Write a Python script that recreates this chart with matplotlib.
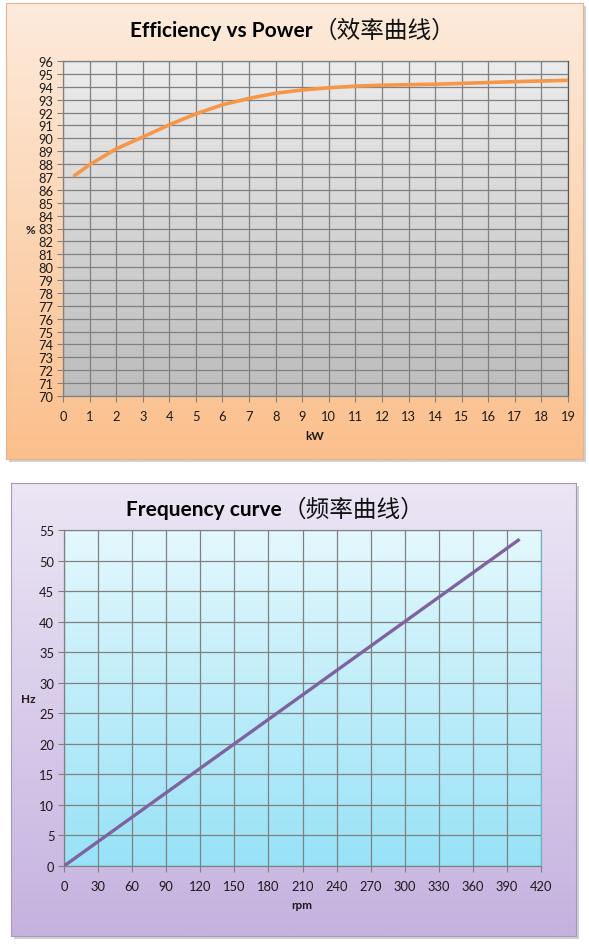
import matplotlib.pyplot as plt
import numpy as np
from matplotlib.colors import LinearSegmentedColormap

plt.rcParams['font.family'] = ['Lato', 'Noto Sans CJK SC', 'DejaVu Sans']

# efficiency curve data (kW, %)
power_kw = [0.43, 1, 2, 3, 4, 5, 6, 7, 8, 9, 10, 11, 12, 13, 14, 15, 16, 17, 18, 19]
efficiency = [87.1, 87.95, 89.18, 90.1, 91.05, 91.9, 92.6, 93.1, 93.5, 93.75,
              93.92, 94.05, 94.12, 94.16, 94.2, 94.26, 94.33, 94.4, 94.45, 94.5]

# frequency curve data (rpm, Hz)
speed_rpm = [0, 400]
frequency = [0, 53.33]

W, H = 589, 945
fig = plt.figure(figsize=(W / 100, H / 100), dpi=100)


def px_rect(x0, y0, x1, y1):
    # pixel box (top-left origin) -> figure fraction [l, b, w, h]
    return [x0 / W, 1 - y1 / H, (x1 - x0) / W, (y1 - y0) / H]


def gradient_bg(rect, top, bottom, edge):
    # shadow
    sh = fig.add_axes([rect[0] + 3 / W, rect[1] - 3 / H, rect[2], rect[3]], zorder=0)
    sh.set_facecolor('#d0d0d0')
    sh.set_xticks([]); sh.set_yticks([])
    for s in sh.spines.values():
        s.set_visible(False)
    bg = fig.add_axes(rect, zorder=0.5)
    cmap = LinearSegmentedColormap.from_list('g', [top, bottom])
    bg.imshow(np.linspace(0, 1, 256).reshape(-1, 1), cmap=cmap, aspect='auto',
              extent=[0, 1, 0, 1])
    bg.set_xticks([]); bg.set_yticks([])
    for s in bg.spines.values():
        s.set_color(edge)
        s.set_linewidth(0.8)


def plot_gradient(ax, top, bottom):
    cmap = LinearSegmentedColormap.from_list('p', [top, bottom])
    ax.imshow(np.linspace(0, 1, 256).reshape(-1, 1), cmap=cmap, aspect='auto',
              extent=[0, 1, 0, 1], transform=ax.transAxes, zorder=0)


def style_axes(ax, xticks, yticks, spine_col):
    ax.set_xticks(xticks)
    ax.set_yticks(yticks)
    ax.grid(True, color='#808080', linewidth=0.9, zorder=1)
    ax.set_axisbelow(False)
    ax.tick_params(direction='out', length=4, width=0.8, color='#808080',
                   labelsize=9.3, labelcolor='#1a1a1a', pad=3)
    for s in ax.spines.values():
        s.set_color(spine_col)
        s.set_linewidth(0.9)
    ax.spines['left'].set_color('#808080')
    ax.spines['bottom'].set_color('#808080')


def title(xsplit, y, eng, cjk):
    fig.text(xsplit / W, 1 - y / H, eng, ha='right', va='baseline', fontsize=15,
             fontweight='bold', color='#000000', zorder=5)
    fig.text((xsplit + 1) / W, 1 - (y + 1) / H, cjk, ha='left', va='baseline',
             fontsize=17, family=['Noto Sans CJK SC', 'DejaVu Sans'],
             color='#111111', zorder=5)


def label(x, y, s):
    fig.text(x / W, 1 - y / H, s, ha='center', va='center', fontsize=8.5,
             fontweight='bold', color='#1a1a1a', zorder=5)


# ---------- top panel ----------
gradient_bg(px_rect(6, 4, 583, 460), '#fdebdc', '#fbbf8c', '#e2b48f')
ax1 = fig.add_axes(px_rect(63, 62, 568, 397), zorder=2)
plot_gradient(ax1, '#ececec', '#bcbcbc')
ax1.plot(power_kw, efficiency, color='#f79646', linewidth=2.6, zorder=3,
         solid_capstyle='round')
ax1.set_xlim(0, 19)
ax1.set_ylim(70, 96)
style_axes(ax1, range(0, 20), range(70, 97), '#5a5a5a')
ax1.tick_params(axis='x', pad=6)
title(313, 37, 'Efficiency vs Power', '（效率曲线）')
label(315, 436, 'kW')
label(30, 230, '%')

# ---------- bottom panel ----------
gradient_bg(px_rect(11, 484, 576, 937), '#ece6f5', '#c5b2df', '#a898c0')
ax2 = fig.add_axes(px_rect(64, 531, 541, 867), zorder=2)
plot_gradient(ax2, '#e4f8fd', '#98e2f7')
ax2.plot(speed_rpm, frequency, color='#7f63a1', linewidth=2.4, zorder=3)
ax2.set_xlim(0, 420)
ax2.set_ylim(0, 55)
style_axes(ax2, range(0, 421, 30), range(0, 56, 5), '#6fb7c8')
ax2.tick_params(axis='x', pad=6)
title(282, 516, 'Frequency curve', '（频率曲线）')
label(302, 906, 'rpm')
label(28, 700, 'Hz')

fig.savefig('out.png', dpi=100)
